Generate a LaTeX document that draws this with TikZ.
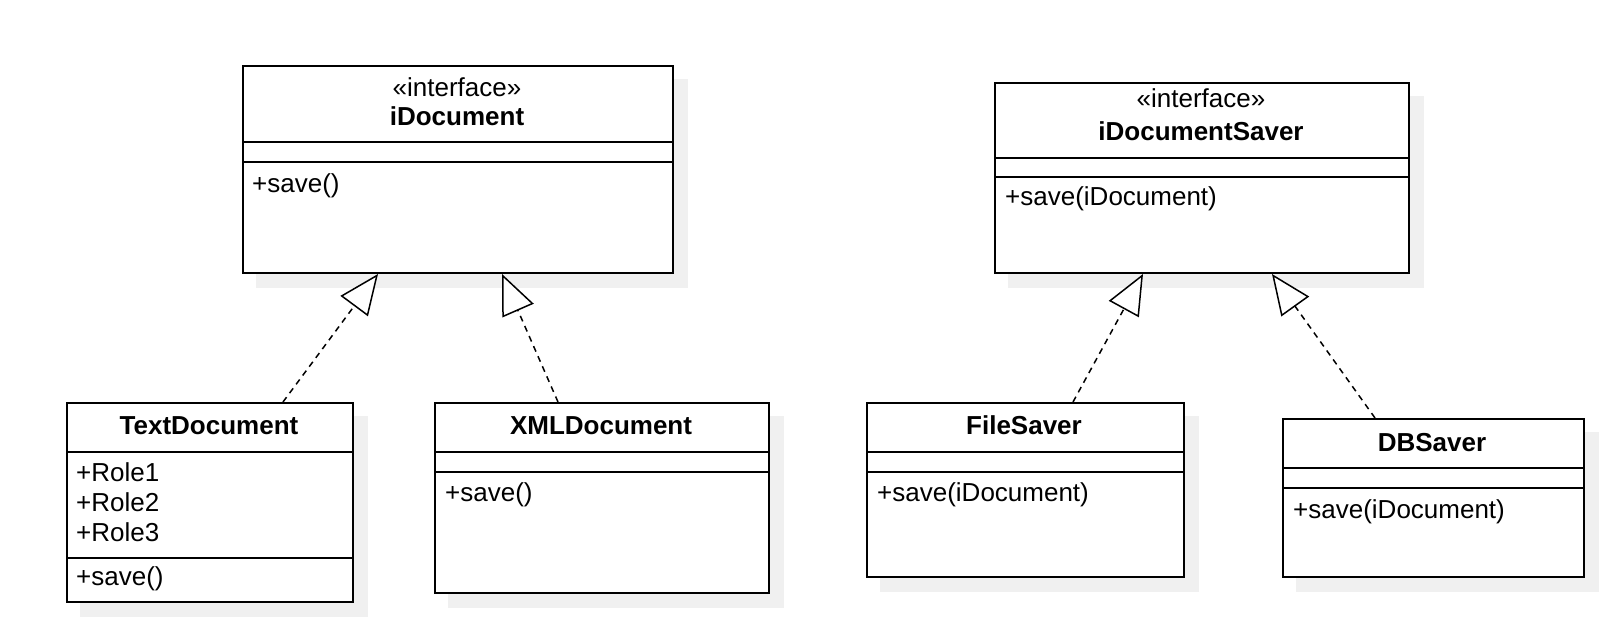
\documentclass[tikz,border=0pt]{standalone}
\usepackage{fontspec}
\setmainfont{Liberation Sans}
\usetikzlibrary{arrows.meta,calc,backgrounds}
\definecolor{shadowgray}{RGB}{240,240,240}
\begin{document}
\begin{tikzpicture}[x=1pt,y=-1pt,
  classbox/.style={draw, line width=2pt, fill=white, rectangle, inner sep=0pt, anchor=north west},
  boxshadow/.style={fill=shadowgray, draw=none},
  divider/.style={line width=2pt},
  txt/.style={inner sep=0pt, font=\fontsize{26}{30}\selectfont},
  lefttxt/.style={txt, anchor=base west},
  stereo/.style={txt, anchor=base},
  titletxt/.style={inner sep=0pt, anchor=base, font=\fontsize{26}{30}\selectfont\bfseries},
  realize/.style={line width=1.5pt, dash pattern=on 6pt off 5pt,
    -{Triangle[length=40pt,width=34pt,fill=white,line width=1.5pt]}}
]
\useasboundingbox (0,0) rectangle (1618,636);

% ---- iDocument ----
\node[classbox, minimum width=430pt, minimum height=207pt] (idoc) at (242,65) {};
\draw[divider] (idoc.west |- 0,142) -- (idoc.east |- 0,142);
\draw[divider] (idoc.west |- 0,162) -- (idoc.east |- 0,162);
\node[stereo] (idocst) at (457,97) {«interface»};
\node[titletxt] (idoct) at (457,126) {iDocument};
\node[lefttxt] (idocm) at (252,193) {+save()};

% ---- TextDocument ----
\node[classbox, minimum width=286pt, minimum height=199pt] (textdoc) at (66,402) {};
\draw[divider] (textdoc.west |- 0,452) -- (textdoc.east |- 0,452);
\draw[divider] (textdoc.west |- 0,558) -- (textdoc.east |- 0,558);
\node[titletxt] (textdoct) at (209,435) {TextDocument};
\node[lefttxt] (textdocr1) at (76,481) {+Role1};
\node[lefttxt] (textdocr2) at (76,511) {+Role2};
\node[lefttxt] (textdocr3) at (76,541) {+Role3};
\node[lefttxt] (textdocm) at (76,585) {+save()};

% ---- XMLDocument ----
\node[classbox, minimum width=334pt, minimum height=190pt] (xmldoc) at (434,402) {};
\draw[divider] (xmldoc.west |- 0,452) -- (xmldoc.east |- 0,452);
\draw[divider] (xmldoc.west |- 0,472) -- (xmldoc.east |- 0,472);
\node[titletxt] (xmldoct) at (601,435) {XMLDocument};
\node[lefttxt] (xmldocm) at (445,501) {+save()};

% ---- iDocumentSaver ----
\node[classbox, minimum width=414pt, minimum height=190pt] (isaver) at (994,82) {};
\draw[divider] (isaver.west |- 0,158) -- (isaver.east |- 0,158);
\draw[divider] (isaver.west |- 0,177) -- (isaver.east |- 0,177);
\node[stereo] (isaverst) at (1201,108) {«interface»};
\node[titletxt] (isavert) at (1201,141) {iDocumentSaver};
\node[lefttxt] (isaverm) at (1005,206) {+save(iDocument)};

% ---- FileSaver ----
\node[classbox, minimum width=317pt, minimum height=174pt] (filesaver) at (866,402) {};
\draw[divider] (filesaver.west |- 0,452) -- (filesaver.east |- 0,452);
\draw[divider] (filesaver.west |- 0,472) -- (filesaver.east |- 0,472);
\node[titletxt] (filesavert) at (1024,435) {FileSaver};
\node[lefttxt] (filesaverm) at (877,501) {+save(iDocument)};

% ---- DBSaver ----
\node[classbox, minimum width=301pt, minimum height=158pt] (dbsaver) at (1282,418) {};
\draw[divider] (dbsaver.west |- 0,468) -- (dbsaver.east |- 0,468);
\draw[divider] (dbsaver.west |- 0,488) -- (dbsaver.east |- 0,488);
\node[titletxt] (dbsavert) at (1432,451) {DBSaver};
\node[lefttxt] (dbsaverm) at (1293,518) {+save(iDocument)};

% ---- shadows ----
\begin{scope}[on background layer]
  \foreach \n in {idoc,textdoc,xmldoc,isaver,filesaver,dbsaver}{
    \fill[boxshadow] ($(\n.north west)+(14,14)$) rectangle ($(\n.south east)+(14,14)$);
  }
\end{scope}

% ---- realizations ----
\draw[realize] ([xshift=217pt]textdoc.north west) -- ([xshift=136pt]idoc.south west);
\draw[realize] ([xshift=124pt]xmldoc.north west) -- ([xshift=260pt]idoc.south west);
\draw[realize] ([xshift=207pt]filesaver.north west) -- ([xshift=149pt]isaver.south west);
\draw[realize] ([xshift=93pt]dbsaver.north west) -- ([xshift=278pt]isaver.south west);
\end{tikzpicture}
\end{document}
